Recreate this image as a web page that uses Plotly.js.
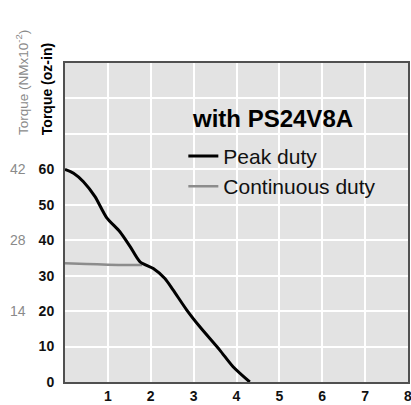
<!DOCTYPE html>
<html>
<head>
<meta charset="utf-8">
<script src="https://cdn.plot.ly/plotly-3.0.1.min.js"></script>
<style>html,body{margin:0;padding:0;background:#fff;}#chart{width:411px;height:405px;}</style>
</head>
<body>
<div id="chart"></div>
<script>
// Speed (x) vs torque (oz-in)
const peakX = [0, 0.2, 0.43, 0.7, 0.97, 1.28, 1.52, 1.75, 2.06, 2.33, 2.52, 2.84, 3.15, 3.61, 3.92, 4.31];
const peakY = [60, 58.9, 56.5, 52.3, 46.4, 42.4, 38.2, 33.9, 32.0, 29.2, 26.0, 20.3, 15.5, 9.0, 4.3, 0];
const contX = [0, 0.5, 1.0, 1.5, 1.8];
const contY = [33.5, 33.3, 33.1, 33.0, 33.0];
const xTicks = [1, 2, 3, 4, 5, 6, 7, 8];
const ozTicks = [0, 10, 20, 30, 40, 50, 60];
const nmTickVals = [20, 40, 60];
const nmTickText = ['14', '28', '42'];
const legendTitle = 'with PS24V8A';
const peakName = 'Peak duty';
const contName = 'Continuous duty';
const ozTitle = 'Torque (oz-in)';
const nmTitle = 'Torque (NMx10<sup>-2</sup>)';

const traces = [
  {x: contX, y: contY, name: contName, mode: 'lines', type: 'scatter',
   line: {color: '#8c8c8c', width: 2.5, shape: 'spline', smoothing: 0.6}, legendrank: 2},
  {x: peakX, y: peakY, name: peakName, mode: 'lines', type: 'scatter',
   line: {color: '#000000', width: 3, shape: 'spline', smoothing: 0.7}, legendrank: 1}
];

const annotations = [
  {text: '<b>' + ozTitle + '</b>', xref: 'paper', yref: 'paper',
   x: -0.052, y: 0.768, xanchor: 'center', yanchor: 'bottom', textangle: -90,
   showarrow: false, font: {size: 14, color: '#000'}},
  {text: nmTitle, xref: 'paper', yref: 'paper',
   x: -0.127, y: 0.768, xanchor: 'center', yanchor: 'bottom', textangle: -90,
   showarrow: false, font: {size: 13.5, color: '#8a8a8a'}},
  {text: '<b>' + legendTitle + '</b>', xref: 'paper', yref: 'paper',
   x: 0.364, y: 0.826, xanchor: 'left', yanchor: 'middle',
   showarrow: false, font: {size: 24, color: '#000'}}
];
nmTickVals.forEach(function (v, i) {
  annotations.push({text: nmTickText[i], xref: 'paper', yref: 'y', x: -0.108, y: v,
    xanchor: 'right', yanchor: 'middle', showarrow: false,
    font: {size: 14, color: '#8a8a8a'}});
});

const layout = {
  width: 411, height: 405,
  margin: {l: 65, r: 3, t: 63, b: 23, pad: 0},
  paper_bgcolor: '#ffffff',
  plot_bgcolor: '#e3e3e3',
  font: {family: 'Liberation Sans, Arial, sans-serif', color: '#000'},
  showlegend: true,
  legend: {
    x: 0.345, xanchor: 'left', y: 0.772, yanchor: 'top',
    bgcolor: 'rgba(0,0,0,0)', borderwidth: 0,
    font: {size: 21, color: '#111'},
    itemwidth: 30, tracegroupgap: 0
  },
  xaxis: {
    range: [0, 8], tickvals: xTicks, ticks: '',
    showgrid: true, gridcolor: '#ffffff', gridwidth: 2,
    showline: true, linecolor: '#505050', linewidth: 2, mirror: true,
    zeroline: false, ticklabeloverflow: 'allow',
    tickfont: {size: 14, weight: 'bold', color: '#111'},
    fixedrange: true
  },
  yaxis: {
    range: [0, 90], tickvals: ozTicks,
    ticks: '', showgrid: true, gridcolor: '#ffffff', gridwidth: 2,
    minor: {dtick: 10, tick0: 0, showgrid: true, gridcolor: '#ffffff', gridwidth: 2, ticks: ''},
    showline: true, linecolor: '#505050', linewidth: 2, mirror: true,
    zeroline: false, ticklabelstandoff: 6,
    tickfont: {size: 14, weight: 'bold', color: '#111'},
    fixedrange: true
  },
  annotations: annotations
};

Plotly.newPlot('chart', traces, layout, {displayModeBar: false, staticPlot: true});
</script>
</body>
</html>
